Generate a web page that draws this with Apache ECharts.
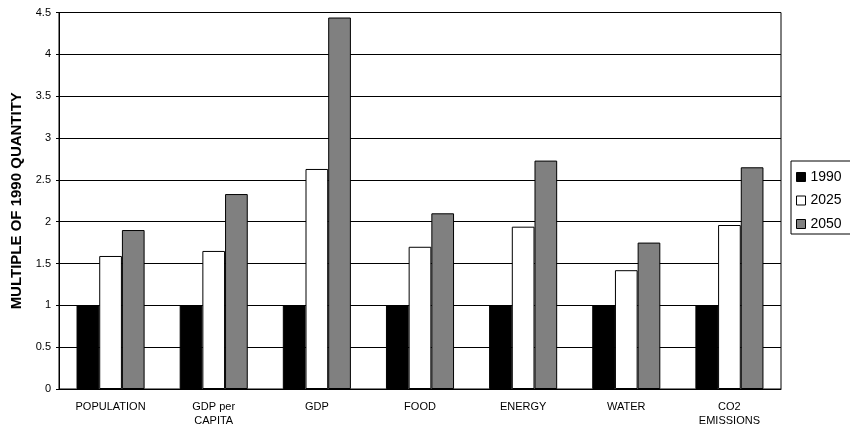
<!DOCTYPE html>
<html>
<head>
<meta charset="utf-8">
<script src="https://cdn.jsdelivr.net/npm/echarts@6/dist/echarts.min.js"></script>
<style>html,body{margin:0;padding:0;background:#fff}#c{width:850px;height:429px}</style>
</head>
<body>
<div id="c"></div>
<script>
const categories = ['POPULATION', 'GDP per\nCAPITA', 'GDP', 'FOOD', 'ENERGY', 'WATER', 'CO2\nEMISSIONS'];
const seriesNames = ['1990', '2025', '2050'];
const values1990 = [1, 1, 1, 1, 1, 1, 1];
const values2025 = [1.59, 1.65, 2.63, 1.70, 1.94, 1.42, 1.96];
const values2050 = [1.90, 2.33, 4.44, 2.10, 2.73, 1.75, 2.65];
const yTicks = [0, 0.5, 1, 1.5, 2, 2.5, 3, 3.5, 4, 4.5];

const colors = ['#000000', '#ffffff', '#808080'];
const allValues = [values1990, values2025, values2050];

const chart = echarts.init(document.getElementById('c'), null, {renderer: 'canvas'});
chart.setOption({
  animation: false,
  backgroundColor: '#ffffff',
  textStyle: {fontFamily: 'Liberation Sans, Arial, sans-serif'},
  grid: {left: 59, right: 69, top: 12.5, bottom: 40, show: true, borderColor: '#000', borderWidth: 1, containLabel: false},
  legend: {
    orient: 'vertical',
    left: 791, top: 161,
    padding: [9, 10, 3, 5],
    itemWidth: 9, itemHeight: 9, itemGap: 9.5,
    borderColor: '#000', borderWidth: 1,
    icon: 'rect',
    itemStyle: {borderColor: '#000', borderWidth: 1},
    textStyle: {fontSize: 14, color: '#000', fontFamily: 'Liberation Sans, Arial, sans-serif'},
    data: seriesNames
  },
  xAxis: {
    type: 'category',
    data: categories,
    axisLine: {lineStyle: {color: '#000', width: 1}},
    axisTick: {show: false},
    axisLabel: {color: '#000', fontSize: 11, lineHeight: 14, margin: 11, interval: 0}
  },
  yAxis: {
    type: 'value',
    min: yTicks[0], max: yTicks[yTicks.length - 1], interval: 0.5,
    name: 'MULTIPLE OF 1990 QUANTITY',
    nameLocation: 'middle',
    nameGap: 34,
    nameTextStyle: {color: '#000', fontSize: 15, fontWeight: 'bold'},
    axisLine: {show: true, lineStyle: {color: '#000', width: 1}},
    axisTick: {show: true, length: 3, lineStyle: {color: '#000'}},
    axisLabel: {color: '#000', fontSize: 11, margin: 8},
    splitLine: {show: true, lineStyle: {color: '#000', width: 1}}
  },
  series: seriesNames.map((n, i) => ({
    name: n,
    type: 'bar',
    data: allValues[i],
    barGap: '0%',
    barCategoryGap: '34%',
    itemStyle: {color: colors[i], borderColor: '#000', borderWidth: 1}
  }))
});
</script>
</body>
</html>
